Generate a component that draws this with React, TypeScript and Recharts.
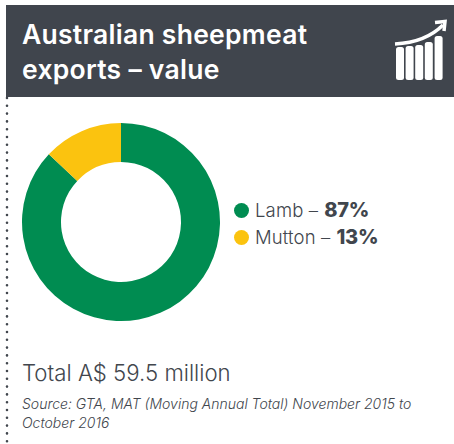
import React from "react";
import { PieChart, Pie, Cell, Legend } from "recharts";

const categories = ["Lamb", "Mutton"];
const shares = [87, 13];
const colours = ["#008C51", "#FBC30F"];
const titleLines = ["Australian sheepmeat", "exports – value"];
const totalText = "Total A$ 59.5 million";
const sourceLines = ["Source: GTA, MAT (Moving Annual Total) November 2015 to", "October 2016"];
const iconBars = [
  { x: 396, y: 47, h: 33 },
  { x: 405.6, y: 46, h: 34 },
  { x: 415.2, y: 45, h: 35 },
  { x: 424.8, y: 42, h: 38 },
  { x: 434.6, y: 36, h: 44 },
];

const data = categories.map((name, i) => ({ name, value: shares[i] }));
const font = "Inter, sans-serif";

const LegendContent = () => (
  <div style={{ fontFamily: font, fontSize: 18.5, color: "#41464d", lineHeight: "27px" }}>
    {data.map((d, i) => (
      <div key={d.name} style={{ display: "flex", alignItems: "center", whiteSpace: "nowrap" }}>
        <span style={{ width: 15, height: 15, borderRadius: "50%", background: colours[i], marginRight: 6, flex: "none" }} />
        <span style={{ fontWeight: 300, letterSpacing: 0.15 }}>{d.name} –</span>
        <span style={{ fontWeight: 800, marginLeft: 6, fontSize: 20, letterSpacing: -0.3 }}>{d.value}%</span>
      </div>
    ))}
  </div>
);

export default function App() {
  return (
    <div style={{ position: "absolute", left: 0, top: 0, width: 454, height: 444, background: "#fff", overflow: "hidden" }}>
      <div style={{ position: "absolute", left: 6, top: 5, width: 448, height: 92, background: "#40454D" }} />
      <div style={{ position: "absolute", left: 22, top: 17, fontFamily: font, fontWeight: 600, fontSize: 26.5, lineHeight: "35px", letterSpacing: 0.27, color: "#fff", whiteSpace: "nowrap" }}>
        {titleLines.map((l) => <div key={l}>{l}</div>)}
      </div>
      <svg style={{ position: "absolute", left: 0, top: 0 }} width={454} height={444}>
        <line x1={7} y1={98} x2={7} y2={442} stroke="#41464d" strokeWidth={2.6} strokeLinecap="round" strokeDasharray="0 7.8" />
        {iconBars.map((b) => (
          <rect key={b.x} x={b.x} y={b.y} width={8} height={b.h} rx={2.5} fill="#fff" />
        ))}
        <path d="M395 44 C415 43 431 37 443 25" stroke="#fff" strokeWidth={3.5} fill="none" />
        <path d="M435 22.5 L445 21.5 L444 31" stroke="#fff" strokeWidth={3.5} fill="none" />
      </svg>
      <div style={{ position: "absolute", left: 0, top: 0 }}>
        <PieChart width={454} height={444} margin={{ top: 0, right: 0, bottom: 0, left: 0 }}>
          <Pie
            data={data}
            dataKey="value"
            nameKey="name"
            cx={121}
            cy={222}
            outerRadius={99}
            innerRadius={60}
            startAngle={90}
            endAngle={-270}
            stroke="none"
            isAnimationActive={false}
          >
            {data.map((d, i) => <Cell key={d.name} fill={colours[i]} />)}
          </Pie>
          <Legend content={<LegendContent />} layout="vertical" wrapperStyle={{ position: "absolute", left: 234, top: 197, width: 200, bottom: "auto" }} />
        </PieChart>
      </div>
      <div style={{ position: "absolute", left: 22, top: 359, fontFamily: font, fontWeight: 300, fontSize: 22.2, lineHeight: "28px", color: "#41464d", whiteSpace: "nowrap" }}>
        {totalText}
      </div>
      <div style={{ position: "absolute", left: 22, top: 395, fontFamily: font, fontWeight: 300, fontStyle: "italic", fontSize: 14, lineHeight: "18.5px", color: "#41464d", whiteSpace: "nowrap" }}>
        {sourceLines.map((l) => <div key={l}>{l}</div>)}
      </div>
    </div>
  );
}
